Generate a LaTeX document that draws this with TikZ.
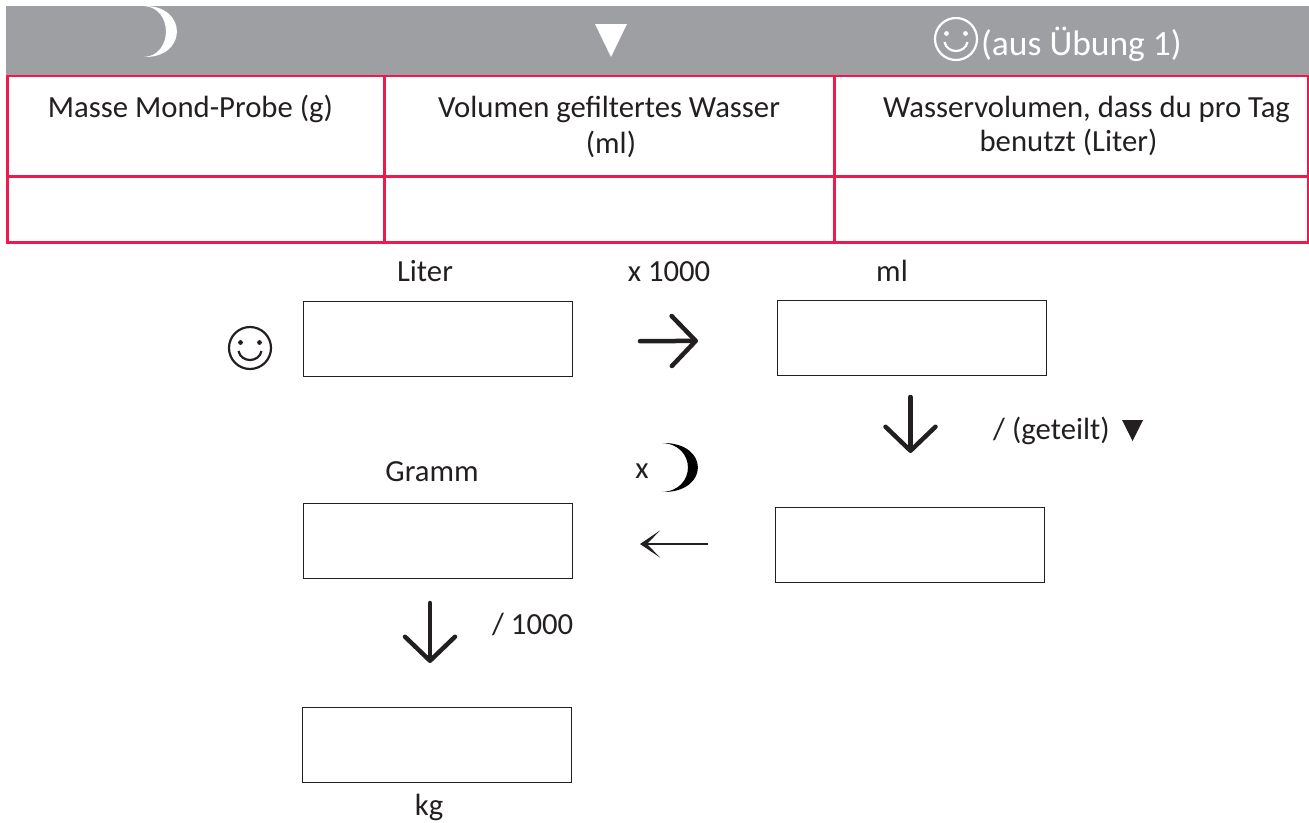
\documentclass[tikz,border=0pt]{standalone}
\usepackage{fontspec}
\setmainfont{Carlito}
\usetikzlibrary{arrows.meta,calc}
\definecolor{barg}{HTML}{9D9FA2}
\definecolor{redl}{HTML}{ED1A4B}
\definecolor{txt}{HTML}{231F20}
\newcommand{\smilew}{2.2pt}
\tikzset{
  x=1pt,y=-1pt,
  cell/.style={draw=redl,line width=3pt,inner sep=0pt,outer sep=0pt,anchor=north west},
  ans/.style={draw=txt,line width=1pt,fill=white,inner sep=0pt,outer sep=0pt,anchor=north west,minimum width=269pt,minimum height=75pt},
  lab/.style={font=\fontsize{30.7}{34}\selectfont,text=txt,anchor=base,inner sep=0pt},
  hd/.style={font=\fontsize{35.5}{40}\selectfont,text=white,anchor=base west,inner sep=0pt},
  flow/.style={draw=txt,line width=4.5pt,line cap=round,-{Straight Barb[length=24pt,width=50pt,line width=4.5pt,round]}},
  flowthin/.style={draw=txt,line width=2pt,-{Stealth[length=20pt,width=27pt,inset=13pt]}},
  face/.pic={
    \draw[line width=\smilew,#1] (0,0) circle (21);
    \fill[#1] (-9.5,-5.5) circle (2.4) (9.5,-5.5) circle (2.4);
    \draw[line width=\smilew,#1] (-11.5,3) .. controls (-9,15) and (9,15) .. (11.5,3);
  }
}
\newcommand{\moonshape}[6]{% x, y top, width, height, thickness, colour
  \fill[#6] (#1,#2) .. controls ({#1+1.33*#3},{#2-0.02*#4}) and ({#1+1.33*#3},{#2+1.02*#4}) .. (#1,{#2+#4})
   .. controls ({#1+1.33*(#3-#5)},{#2+0.97*#4}) and ({#1+1.33*(#3-#5)},{#2+0.03*#4}) .. (#1,#2) -- cycle;}
\begin{document}
\begin{tikzpicture}
\useasboundingbox (0,0) rectangle (1309,822);
% table
\node[cell,minimum width=377pt,minimum height=167pt] (c1) at (7.5,75.5) {};
\node[cell,minimum width=450pt,minimum height=167pt] (c2) at (384.5,75.5) {};
\node[cell,minimum width=473.5pt,minimum height=167pt] (c3) at (834.5,75.5) {};
\draw[redl,line width=3pt] (c1.west |- 0,176.5) -- (c3.east |- 0,176.5);
\node[fill=barg,inner sep=0pt,anchor=north west,minimum width=1303pt,minimum height=69pt] (bar) at (6,6) {};
\moonshape{144}{6}{33}{51}{11}{white}
\fill[white] (595,24) -- (627,24) -- (611,57) -- cycle;
\pic at (956,39) {face={white}};
\node[hd] (aus) at (981,55) {(aus Übung 1)};
\node[lab] (t1) at (190.5,117) {Masse Mond-Probe (g)};
\node[lab] (t2) at (609,117) {Volumen gefiltertes Wasser};
\node[lab] (t2b) at (611,153) {(ml)};
\node[lab] (t3) at (1086.5,117) {Wasservolumen, dass du pro Tag};
\node[lab] (t3b) at (1068.5,151) {benutzt (Liter)};
% flow
\node[ans] (b1) at (303,301) {};
\node[ans] (b2) at (777,300) {};
\node[ans] (b3) at (775,507) {};
\node[ans] (b4) at (303,503) {};
\node[ans] (b5) at (302,707) {};
\node[lab] (liter) at (425,281) {Liter};
\node[lab] (x1000) at (669,281) {x 1000};
\node[lab] (ml) at (892,281) {ml};
\node[lab] (gramm) at (432,481.5) {Gramm};
\node[lab] (xm) at (642,478) {x};
\node[lab,anchor=base west] (get) at (993,439) {/ (geteilt)};
\node[lab,anchor=base west] (k1000) at (492,634) {/ 1000};
\node[lab] (kg) at (429,815) {kg};
\pic at (250,348) {face={txt}};
\moonshape{662}{443}{36}{49}{10}{black}
\fill[txt] (1122,420) -- (1143,420) -- (1132.5,441) -- cycle;
\draw[flow,shorten <=68pt,shorten >=79pt] ($(b1.east)+(0,3)$) -- ($(b2.west)+(0,3)$);
\draw[flow,shorten <=22pt,shorten >=54pt] ($(b2.south)+(-1,0)$) -- ($(b3.north)+(1,0)$);
\draw[flowthin,shorten <=67pt,shorten >=68pt] ($(b3.west)+(0,-0.5)$) -- ($(b4.east)+(0,3.5)$);
\draw[flow,shorten <=25pt,shorten >=44pt] ($(b4.south)+(-7.5,0)$) -- ($(b5.north)+(-6.5,0)$);
\end{tikzpicture}
\end{document}
